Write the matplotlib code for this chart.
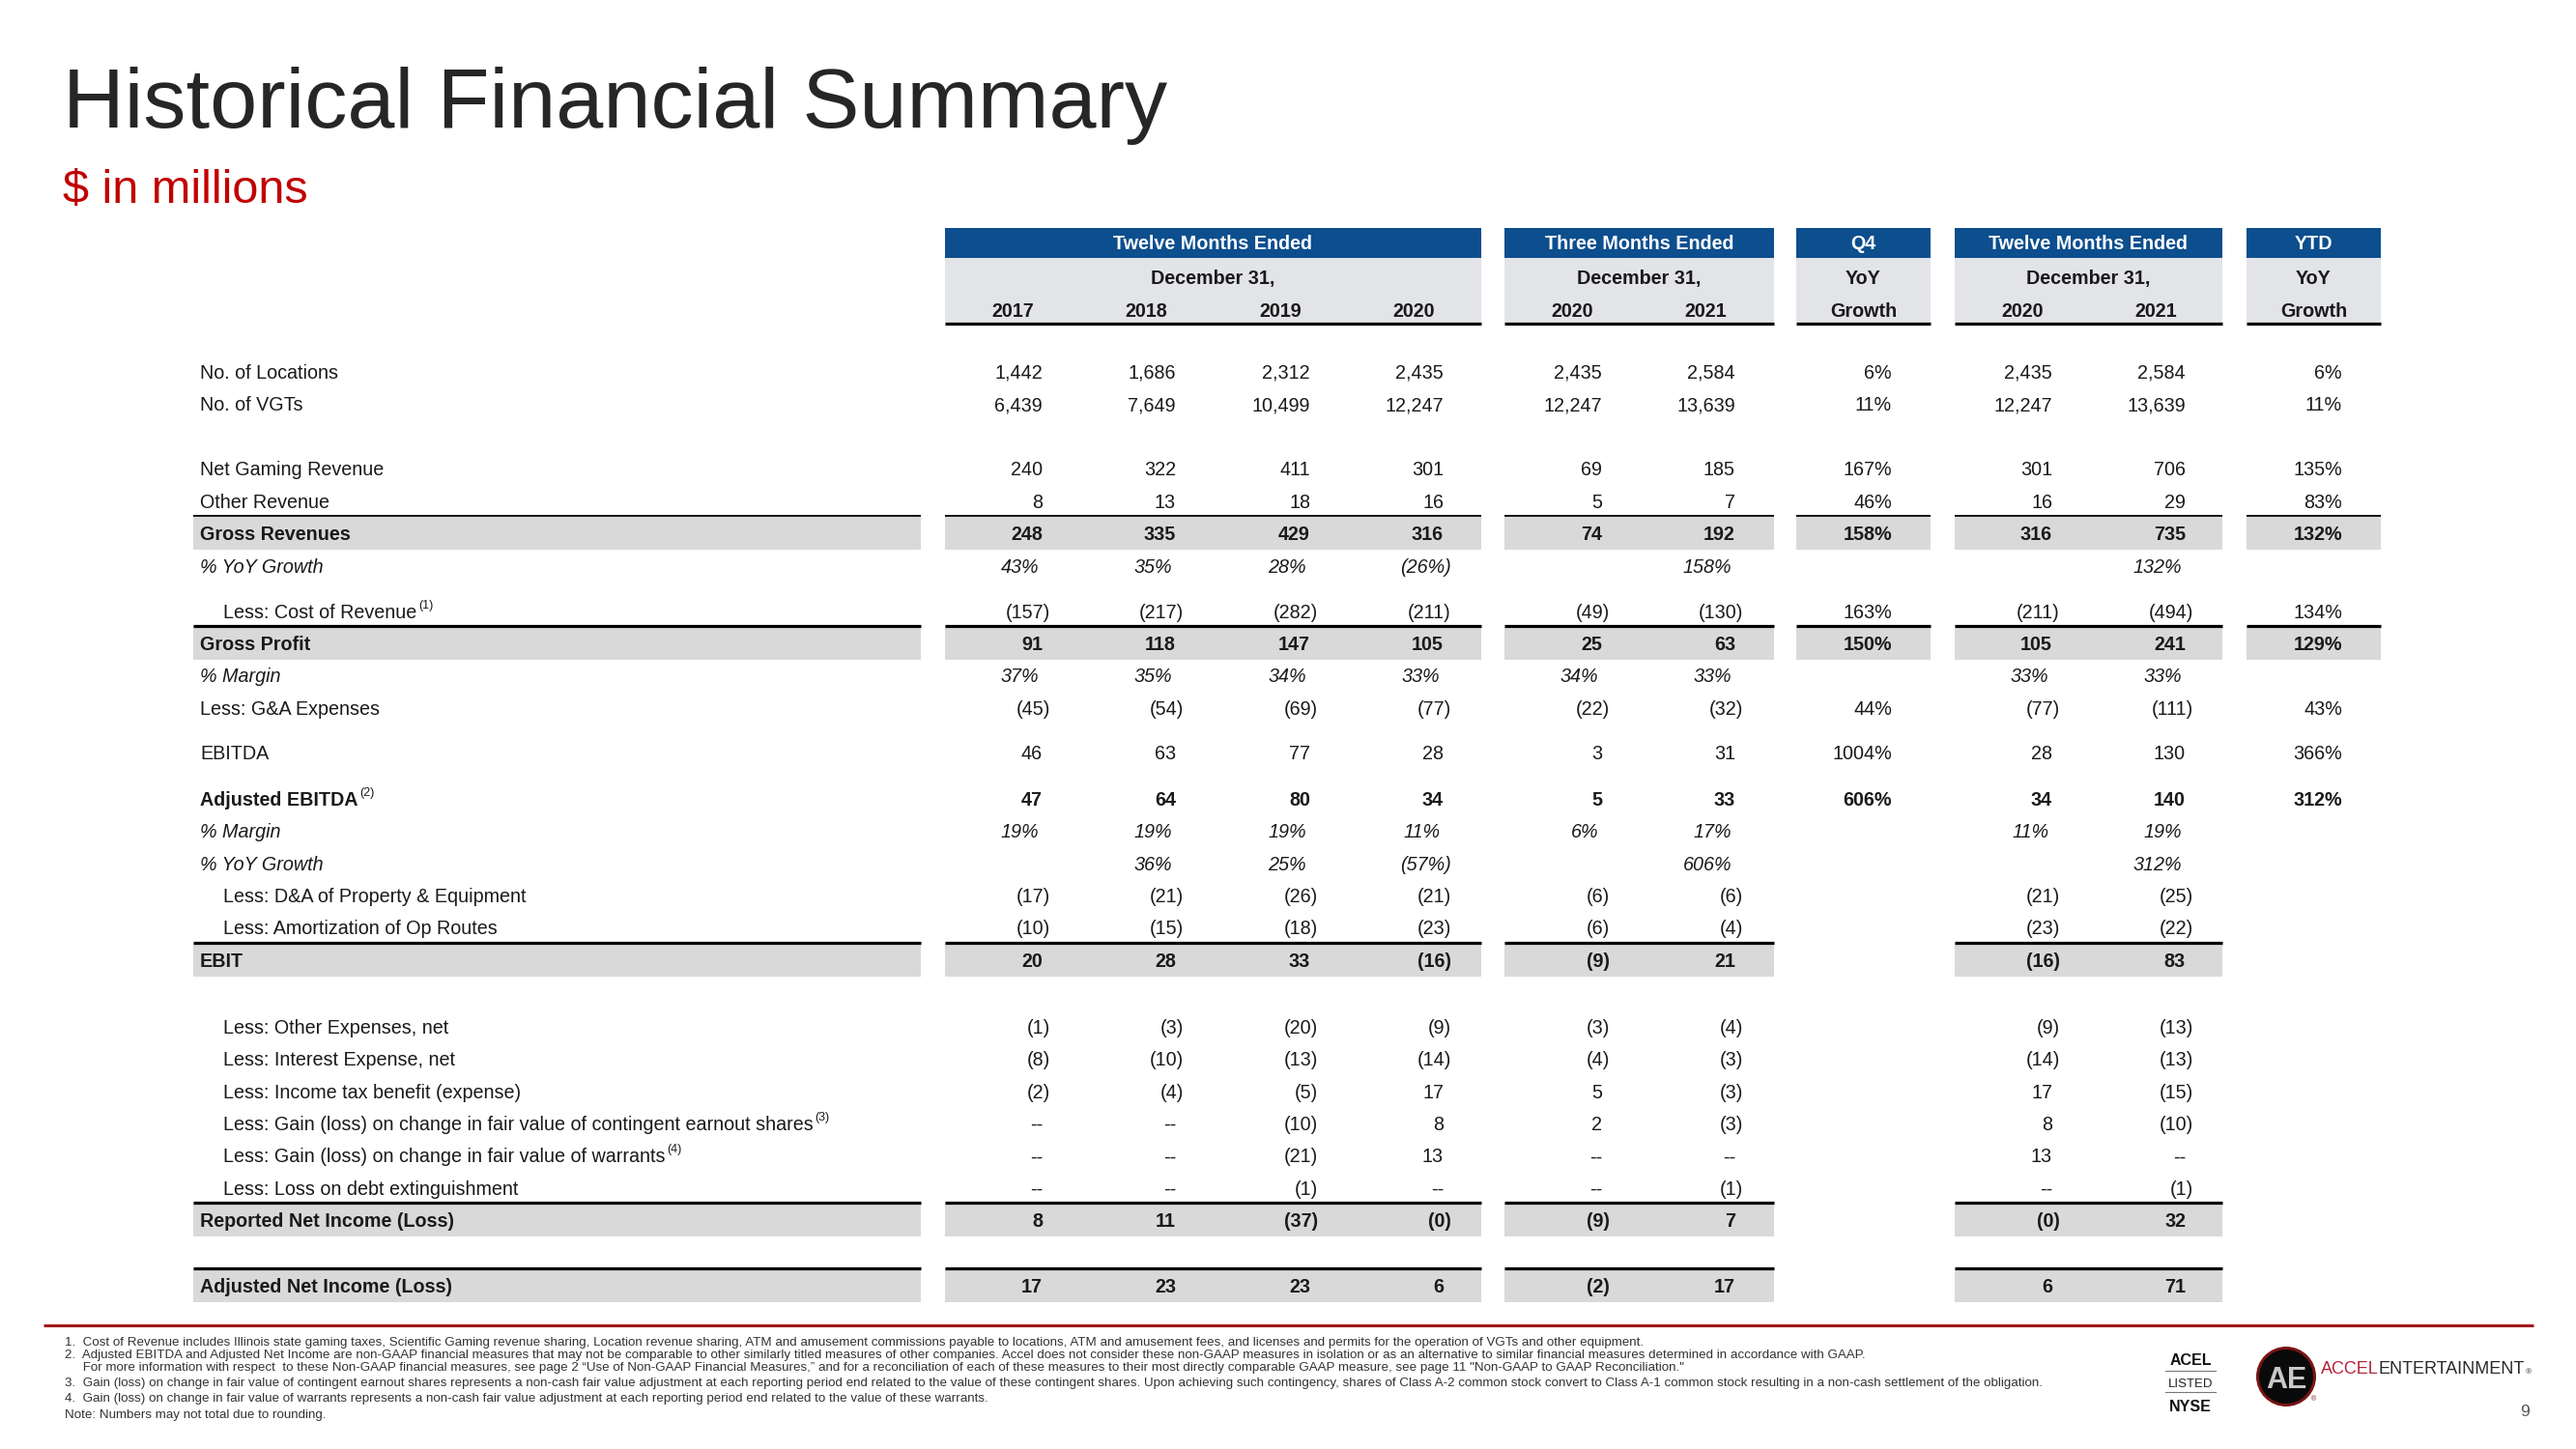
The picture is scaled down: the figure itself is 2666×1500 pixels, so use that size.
import matplotlib
matplotlib.use("Agg")
import matplotlib.pyplot as plt
from matplotlib.patches import Rectangle, Circle

W, H, DPI = 2666, 1500, 100
FONT = "Liberation Sans"
plt.rcParams["font.family"] = [FONT, "DejaVu Sans"]

# ---------------- data ----------------
title = "Historical Financial Summary"
subtitle = "$ in millions"

row_labels = [
    "No. of Locations", "No. of VGTs",
    "Net Gaming Revenue", "Other Revenue", "Gross Revenues", "% YoY Growth",
    "Less: Cost of Revenue", "Gross Profit", "% Margin", "Less: G&A Expenses",
    "EBITDA",
    "Adjusted EBITDA", "% Margin", "% YoY Growth",
    "Less: D&A of Property & Equipment", "Less: Amortization of Op Routes", "EBIT",
    "Less: Other Expenses, net", "Less: Interest Expense, net",
    "Less: Income tax benefit (expense)",
    "Less: Gain (loss) on change in fair value of contingent earnout shares",
    "Less: Gain (loss) on change in fair value of warrants",
    "Less: Loss on debt extinguishment", "Reported Net Income (Loss)",
    "Adjusted Net Income (Loss)",
]
row_notes = ["", "", "", "", "", "", "(1)", "", "", "", "", "(2)", "", "", "", "", "",
             "", "", "", "(3)", "(4)", "", "", ""]

fy2017 = ["1,442", "6,439", "240", "8", "248", "43%", "(157)", "91", "37%", "(45)", "46",
          "47", "19%", "", "(17)", "(10)", "20", "(1)", "(8)", "(2)", "--", "--", "--", "8", "17"]
fy2018 = ["1,686", "7,649", "322", "13", "335", "35%", "(217)", "118", "35%", "(54)", "63",
          "64", "19%", "36%", "(21)", "(15)", "28", "(3)", "(10)", "(4)", "--", "--", "--", "11", "23"]
fy2019 = ["2,312", "10,499", "411", "18", "429", "28%", "(282)", "147", "34%", "(69)", "77",
          "80", "19%", "25%", "(26)", "(18)", "33", "(20)", "(13)", "(5)", "(10)", "(21)", "(1)", "(37)", "23"]
fy2020 = ["2,435", "12,247", "301", "16", "316", "(26%)", "(211)", "105", "33%", "(77)", "28",
          "34", "11%", "(57%)", "(21)", "(23)", "(16)", "(9)", "(14)", "17", "8", "13", "--", "(0)", "6"]
q4_2020 = ["2,435", "12,247", "69", "5", "74", "", "(49)", "25", "34%", "(22)", "3",
           "5", "6%", "", "(6)", "(6)", "(9)", "(3)", "(4)", "5", "2", "--", "--", "(9)", "(2)"]
q4_2021 = ["2,584", "13,639", "185", "7", "192", "158%", "(130)", "63", "33%", "(32)", "31",
           "33", "17%", "606%", "(6)", "(4)", "21", "(4)", "(3)", "(3)", "(3)", "--", "(1)", "7", "17"]
q4_yoy = ["6%", "11%", "167%", "46%", "158%", "", "163%", "150%", "", "44%", "1004%",
          "606%", "", "", "", "", "", "", "", "", "", "", "", "", ""]
ytd_2020 = ["2,435", "12,247", "301", "16", "316", "", "(211)", "105", "33%", "(77)", "28",
            "34", "11%", "", "(21)", "(23)", "(16)", "(9)", "(14)", "17", "8", "13", "--", "(0)", "6"]
ytd_2021 = ["2,584", "13,639", "706", "29", "735", "132%", "(494)", "241", "33%", "(111)", "130",
            "140", "19%", "312%", "(25)", "(22)", "83", "(13)", "(13)", "(15)", "(10)", "--", "(1)", "32", "71"]
ytd_yoy = ["6%", "11%", "135%", "83%", "132%", "", "134%", "129%", "", "43%", "366%",
           "312%", "", "", "", "", "", "", "", "", "", "", "", "", ""]

columns = [fy2017, fy2018, fy2019, fy2020, q4_2020, q4_2021, q4_yoy, ytd_2020, ytd_2021, ytd_yoy]

group_titles = ["Twelve Months Ended", "Three Months Ended", "Q4", "Twelve Months Ended", "YTD"]
group_sub = ["December 31,", "December 31,", "YoY", "December 31,", "YoY"]
group_years = [["2017", "2018", "2019", "2020"], ["2020", "2021"], ["Growth"], ["2020", "2021"], ["Growth"]]

footnotes = [
    "1.  Cost of Revenue includes Illinois state gaming taxes, Scientific Gaming revenue sharing, Location revenue sharing, ATM and amusement commissions payable to locations, ATM and amusement fees, and licenses and permits for the operation of VGTs and other equipment.",
    "2.  Adjusted EBITDA and Adjusted Net Income are non-GAAP financial measures that may not be comparable to other similarly titled measures of other companies. Accel does not consider these non-GAAP measures in isolation or as an alternative to similar financial measures determined in accordance with GAAP.",
    "     For more information with respect  to these Non-GAAP financial measures, see page 2 \u201cUse of Non-GAAP Financial Measures,\u201d and for a reconciliation of each of these measures to their most directly comparable GAAP measure, see page 11 \"Non-GAAP to GAAP Reconciliation.\"",
    "3.  Gain (loss) on change in fair value of contingent earnout shares represents a non-cash fair value adjustment at each reporting period end related to the value of these contingent shares. Upon achieving such contingency, shares of Class A-2 common stock convert to Class A-1 common stock resulting in a non-cash settlement of the obligation.",
    "4.  Gain (loss) on change in fair value of warrants represents a non-cash fair value adjustment at each reporting period end related to the value of these warrants.",
    "Note: Numbers may not total due to rounding.",
]

# ---------------- styles / layout ----------------
# weight/style per row: n normal, b bold, i italic
row_style = ["n", "n", "n", "n", "b", "i", "n", "b", "i", "n", "n", "b", "i", "i", "n", "n", "b",
             "n", "n", "n", "n", "n", "n", "b", "b"]
row_indent = [0, 0, 0, 0, 0, 0, 1, 0, 0, 0, 0, 0, 0, 0, 1, 1, 0, 1, 1, 1, 1, 1, 1, 0, 0]
# band: 0 none, 1 thin-line band all blocks, 2 thick-line band all blocks, 3 thick band partial
row_band = [0, 0, 0, 0, 1, 0, 0, 2, 0, 0, 0, 0, 0, 0, 0, 0, 3, 0, 0, 0, 0, 0, 0, 3, 3]
row_extra_gap = [0, 0, 33.6, 0, 0, 0, 13.6, 0, 0, 0, 12.6, 14.6, 0, 0, 0, 0, 0, 35.6, 0, 0, 0, 0, 0, 0, 34.6]
ROW0, STEP = 385.0, 33.4

col_right = [1079, 1217, 1356, 1494, 1658, 1796, 1958, 2124, 2262, 2424]
col_group = [0, 0, 0, 0, 1, 1, 2, 3, 3, 4]
group_x = [(978, 1533), (1557, 1836), (1859, 1998), (2023, 2300), (2325, 2464)]
label_band = (200, 953)

TXT = "#1a1a1a"
BLUE = "#0c4e8e"
HDR_GRAY = "#e3e4e8"
BAND_GRAY = "#d9d9d9"
FS = 14.2

fig = plt.figure(figsize=(W / DPI, H / DPI), dpi=DPI)
fig.patch.set_facecolor("white")
ax = fig.add_axes([0, 0, 1, 1])
ax.set_xlim(0, W)
ax.set_ylim(H, 0)
ax.axis("off")
renderer = fig.canvas.get_renderer()


def right_end(t):
    bb = t.get_window_extent(renderer)
    return ax.transData.inverted().transform((bb.x1, bb.y1))[0]


# title
ax.text(65, 132, title, fontsize=63.5, color="#262626", ha="left", va="baseline")
ax.text(65, 210, subtitle, fontsize=35, color="#c00000", ha="left", va="baseline")

# header boxes
for g, (x0, x1) in enumerate(group_x):
    ax.add_patch(Rectangle((x0, 236), x1 - x0, 31, facecolor=BLUE, edgecolor="none"))
    ax.add_patch(Rectangle((x0, 267), x1 - x0, 67, facecolor=HDR_GRAY, edgecolor="none"))
    ax.plot([x0, x1], [334.5, 334.5], color="black", lw=2.3, solid_capstyle="butt")
    cx = (x0 + x1) / 2
    ax.text(cx, 258, group_titles[g], fontsize=FS, color="white", fontweight="bold",
            ha="center", va="baseline")
    ax.text(cx, 294, group_sub[g], fontsize=FS, color=TXT, fontweight="bold",
            ha="center", va="baseline")
    yrs = group_years[g]
    if len(yrs) == 1:
        ax.text(cx, 328, yrs[0], fontsize=FS, color=TXT, fontweight="bold",
                ha="center", va="baseline")
    else:
        cols = [c for c in range(len(col_group)) if col_group[c] == g]
        for c, yr in zip(cols, yrs):
            ax.text(col_right[c] - 9, 328, yr, fontsize=FS, color=TXT, fontweight="bold",
                    ha="right", va="baseline")

# body rows
y = ROW0
for r, label in enumerate(row_labels):
    if r > 0:
        y += STEP + row_extra_gap[r]
    st = row_style[r]
    weight = "bold" if st == "b" else "normal"
    style = "italic" if st == "i" else "normal"
    band = row_band[r]
    if band:
        top, bot = y - 18, y + 17
        spans = [label_band] + (group_x if band in (1, 2) else [group_x[0], group_x[1], group_x[3]])
        lw = 1.3 if band == 1 else 2.3
        for (x0, x1) in spans:
            ax.add_patch(Rectangle((x0, top), x1 - x0, bot - top, facecolor=BAND_GRAY,
                                   edgecolor="none"))
            ax.plot([x0, x1], [top, top], color="black", lw=lw, solid_capstyle="butt")
    lx = 231 if row_indent[r] else 207
    t = ax.text(lx, y + 7, label, fontsize=FS, color=TXT, fontweight=weight,
                fontstyle=style, ha="left", va="baseline")
    if row_notes[r]:
        xe = right_end(t)
        ax.text(xe + 2, y - 3, row_notes[r], fontsize=9, color=TXT, ha="left", va="baseline")
    for c, col in enumerate(columns):
        s = col[r]
        if not s:
            continue
        xr = col_right[c]
        if s.endswith(")"):
            xr += 8
        elif st == "i" and s.endswith("%"):
            xr -= 4
        ax.text(xr, y + 7, s, fontsize=FS, color=TXT, fontweight=weight, fontstyle=style,
                ha="right", va="baseline")

# footnote rule
ax.plot([45, 2622], [1372, 1372], color="#a3191f", lw=2.2, solid_capstyle="butt")
fn_y = [1393, 1406, 1419, 1435, 1451, 1468]
for k, (fy, fn) in enumerate(zip(fn_y, footnotes)):
    ax.text(67, fy, fn, fontsize=9.6, color="#333333", ha="left", va="baseline")

# NYSE badge
ax.text(2267, 1413, "ACEL", fontsize=11.5, fontweight="bold", color="#111111", ha="center", va="baseline")
ax.plot([2241, 2293], [1419, 1419], color="#777777", lw=0.8)
ax.text(2267, 1436, "LISTED", fontsize=9.5, color="#222222", ha="center", va="baseline")
ax.plot([2241, 2293], [1441, 1441], color="#777777", lw=0.8)
ax.text(2267, 1461, "NYSE", fontsize=11.5, fontweight="bold", color="#111111", ha="center", va="baseline")

# AE logo
ax.add_patch(Circle((2366, 1425), 31, facecolor="#7a1414", edgecolor="none"))
ax.add_patch(Circle((2366, 1425), 28, facecolor="#0a0a0a", edgecolor="none"))
ax.text(2366, 1437, "AE", fontsize=22, fontweight="bold", color="#c9c9c9", ha="center",
        va="baseline")
ax.text(2395, 1450, "\u00ae", fontsize=5, color="#7a1414", ha="center", va="baseline")
t1 = ax.text(2402, 1422, "ACCEL", fontsize=13, color="#b3243a", ha="left", va="baseline")
x_after = right_end(t1)
t2 = ax.text(x_after, 1422, "ENTERTAINMENT", fontsize=13, color="#2a2a2a", ha="left", va="baseline")
x_after2 = right_end(t2)
ax.text(x_after2 + 1, 1422, "\u00ae", fontsize=6, color="#2a2a2a", ha="left", va="baseline")

# page number
ax.text(2613, 1466, "9", fontsize=12.5, color="#555555", ha="center", va="baseline")

fig.savefig("out.png", dpi=DPI, facecolor="white")
